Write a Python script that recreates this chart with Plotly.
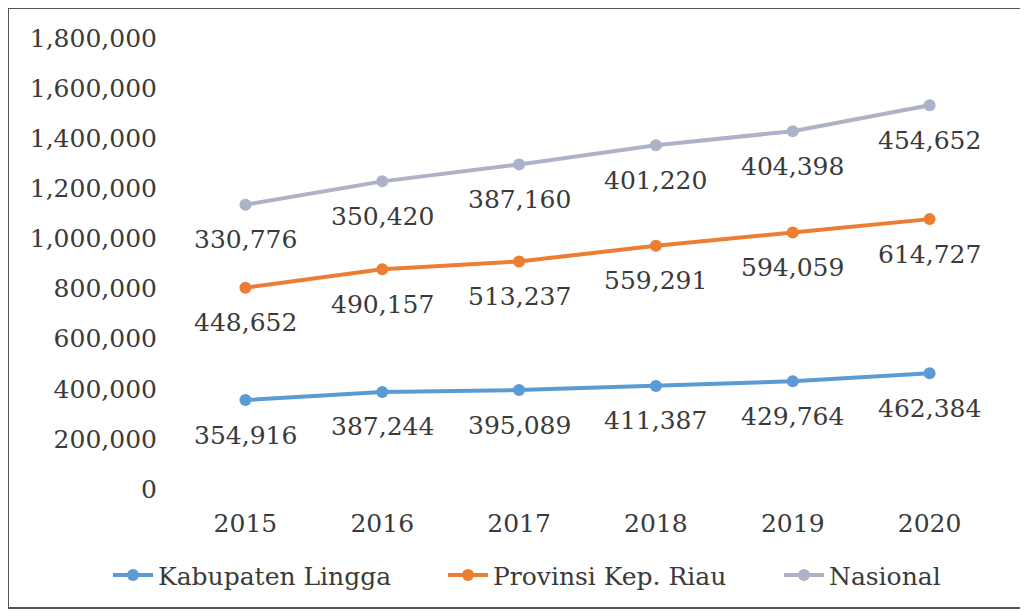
import numpy as np
import plotly.graph_objects as go

years = ["2015", "2016", "2017", "2018", "2019", "2020"]
lingga = [354916, 387244, 395089, 411387, 429764, 462384]
kepri = [448652, 490157, 513237, 559291, 594059, 614727]
nasional = [330776, 350420, 387160, 401220, 404398, 454652]
y_ticks = [0, 200000, 400000, 600000, 800000, 1000000, 1200000, 1400000, 1600000, 1800000]

series = [
    ("Kabupaten Lingga", lingga, "#5B9BD5"),
    ("Provinsi Kep. Riau", kepri, "#ED7D31"),
    ("Nasional", nasional, "#ADB2C8"),
]

FONT = "DejaVu Serif"
TXT = "#3a3a3a"

# page body has an 8px margin, so the plot area is placed 8px up/left
L, R, T, B = 169, 38, 30, 130
PW, PH = 1028 - L - R, 611 - T - B

# left edge (page px) of each legend entry
legend_left = [108, 443, 779]

fig = go.Figure()
# stacked line chart: each line sits on top of the previous one
base = np.zeros(len(years))
annos = []
legends = {}
for k, (name, vals, color) in enumerate(series):
    top = base + np.array(vals, dtype=float)
    lg = "legend" if k == 0 else f"legend{k + 1}"
    fig.add_trace(go.Scatter(
        x=years, y=top.tolist(), name=name, mode="lines+markers",
        line=dict(color=color, width=4),
        marker=dict(color=color, size=12),
        legend=lg,
        customdata=vals, hovertemplate="%{x}: %{customdata:,}<extra>" + name + "</extra>",
    ))
    legends[lg] = dict(orientation="h", x=(legend_left[k] - 8 - L) / PW, xanchor="left",
                       y=-0.14, yanchor="top", itemwidth=40,
                       font=dict(family=FONT, size=25, color=TXT))
    # value labels under each point (x given as category index)
    for i, v in enumerate(vals):
        annos.append(dict(x=i, y=float(top[i]), xref="x", yref="y",
                          text=f"{v:,}", showarrow=False, yshift=-35,
                          font=dict(family=FONT, size=25, color=TXT)))
    base = top

# outer frame of the chart (pixel positions converted to paper units)
fig.add_shape(type="rect", xref="paper", yref="paper",
              x0=(0 - L) / PW, x1=(1016 - L) / PW,
              y0=(T + PH - 600) / PH, y1=(T + PH - 0) / PH,
              line=dict(color="#555555", width=2), layer="below")

fig.update_layout(
    width=1028, height=611,
    margin=dict(l=L, r=R, t=T, b=B),
    paper_bgcolor="white", plot_bgcolor="white",
    font=dict(family=FONT, size=25, color=TXT),
    annotations=annos,
    showlegend=True,
    xaxis=dict(type="category", showgrid=False, showline=False, zeroline=False,
               range=[-0.5, 5.5], ticks="outside", ticklen=12, tickcolor="rgba(0,0,0,0)"),
    yaxis=dict(range=[0, 1800000], tickvals=y_ticks, tickformat=",d", showgrid=False,
               showline=False, zeroline=False, ticks="outside", ticklen=14,
               tickcolor="rgba(0,0,0,0)"),
    **legends,
)

fig.write_html("out.html")
